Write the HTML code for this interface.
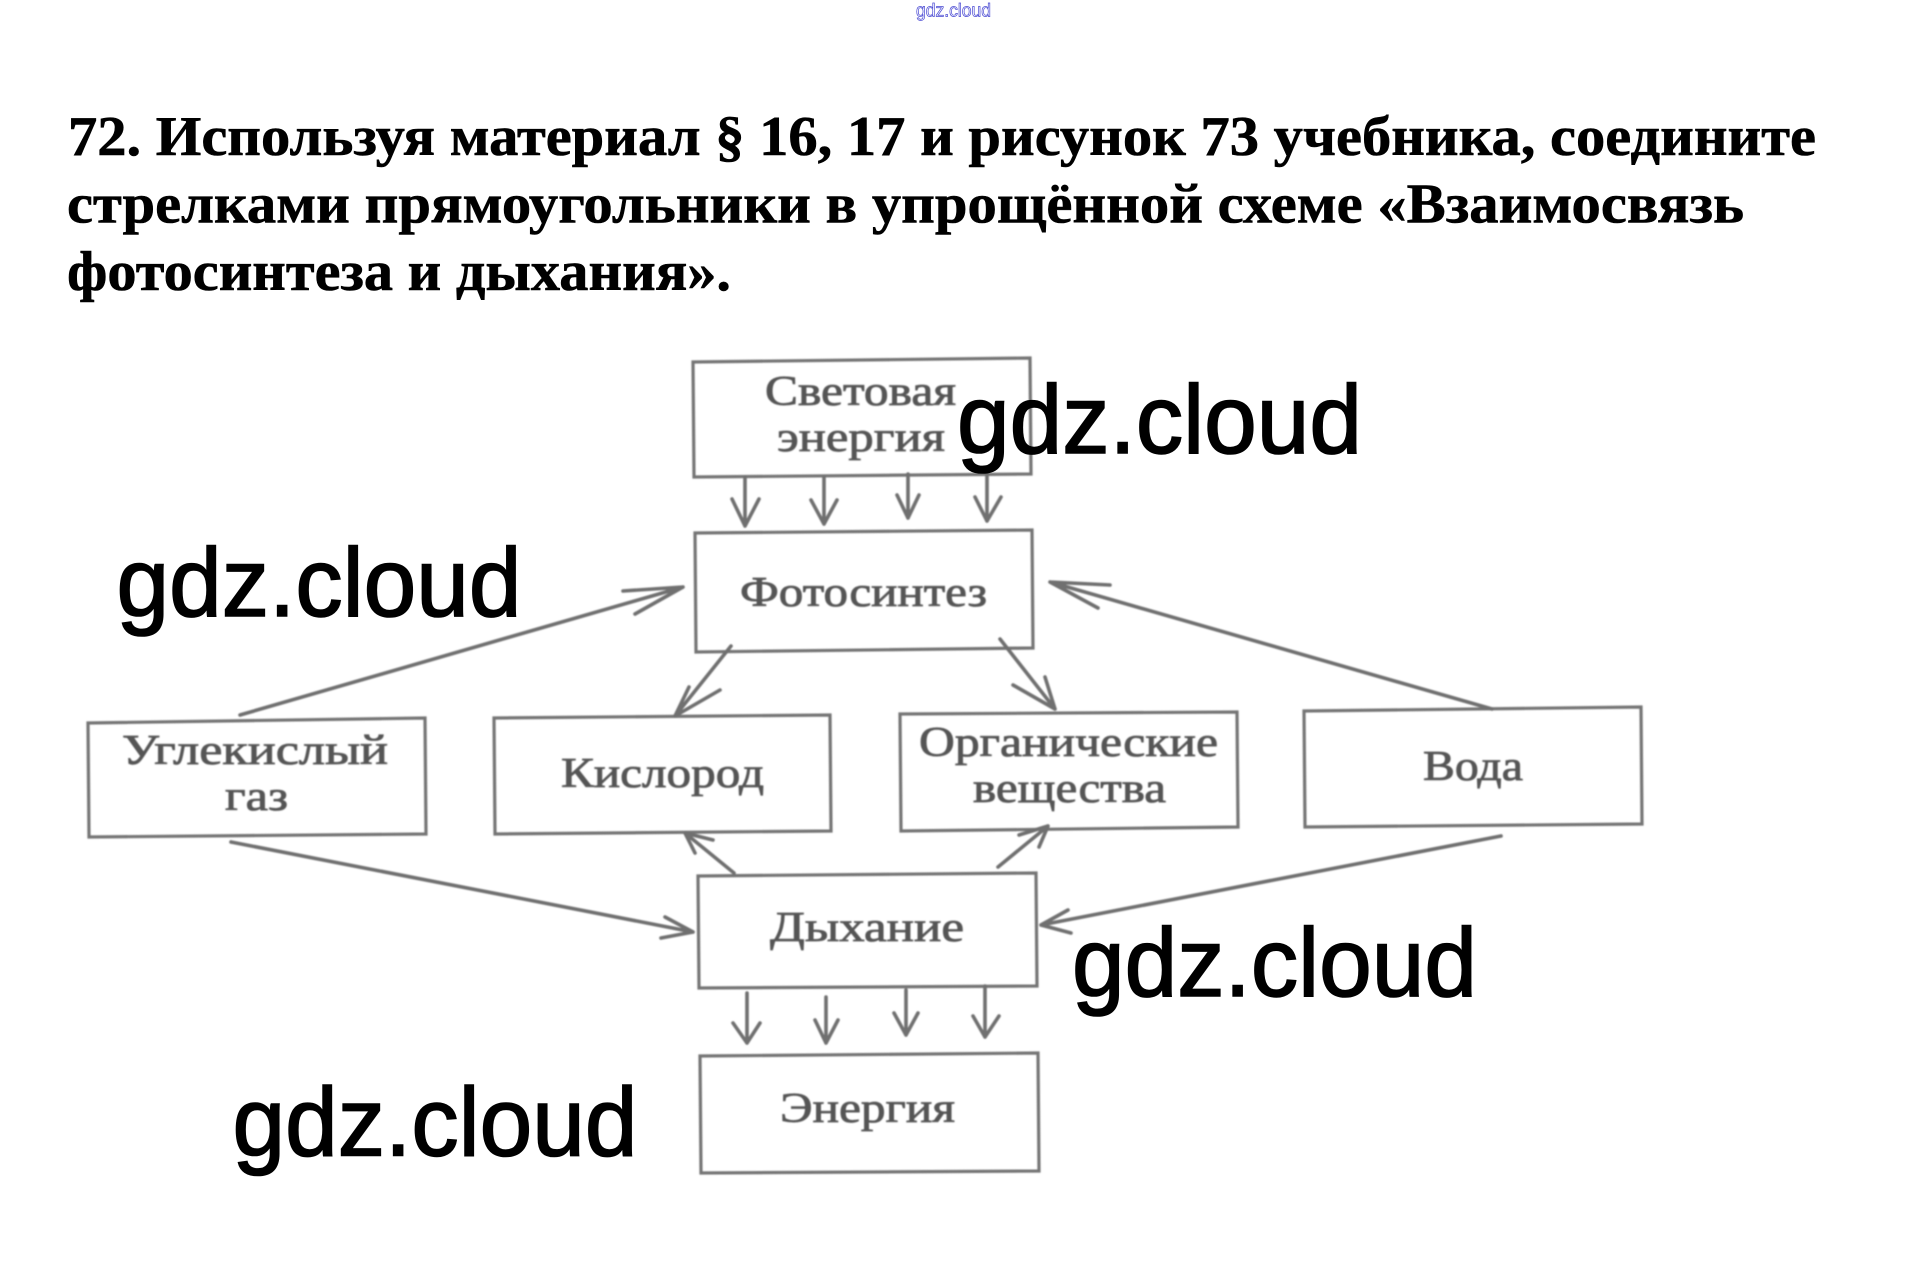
<!DOCTYPE html>
<html lang="ru">
<head>
<meta charset="utf-8">
<title>Взаимосвязь фотосинтеза и дыхания</title>
<style>
html,body{margin:0;padding:0;background:#fff;width:1907px;height:1282px;overflow:hidden}
svg{display:block}
.t{font-family:"Liberation Serif","DejaVu Serif",serif;font-weight:700;font-size:56px;fill:#000;stroke:#000;stroke-width:.6px}
.l{font-family:"Liberation Serif","DejaVu Serif",serif;font-size:42px;fill:#555;stroke:#555;stroke-width:.8px}
.w{font-family:"Liberation Sans","DejaVu Sans",sans-serif;font-size:97px;fill:#000;stroke:#000;stroke-width:1.6px}
.b{fill:none;stroke:#747474;stroke-width:3.2}
.a{fill:none;stroke:#6f6f6f;stroke-width:3.6;stroke-linecap:round;stroke-linejoin:round}
</style>
</head>
<body>
<svg width="1907" height="1282" viewBox="0 0 1907 1282" xmlns="http://www.w3.org/2000/svg">
<defs><filter id="s" x="-5%" y="-5%" width="110%" height="110%"><feGaussianBlur stdDeviation="0.8"/></filter></defs>
<rect width="1907" height="1282" fill="#fff"/>

<text x="916" y="16.5" font-family="Liberation Sans, sans-serif" font-size="18" fill="#fff" stroke="#4646d2" stroke-width=".7" textLength="75" lengthAdjust="spacingAndGlyphs">gdz.cloud</text>

<text class="t" x="68" y="155" textLength="1748" lengthAdjust="spacingAndGlyphs">72. Используя материал § 16, 17 и рисунок 73 учебника, соедините</text>
<text class="t" x="67" y="222.5" textLength="1677" lengthAdjust="spacingAndGlyphs">стрелками прямоугольники в упрощённой схеме «Взаимосвязь</text>
<text class="t" x="67" y="290" textLength="664" lengthAdjust="spacingAndGlyphs">фотосинтеза и дыхания».</text>

<g filter="url(#s)">
<!-- boxes -->
<polygon class="b" points="693,362 1030,358 1031,474 694,477"/>
<polygon class="b" points="695,533 1032,530 1033,648 696,652"/>
<polygon class="b" points="88,723 425,718 426,834 89,837"/>
<polygon class="b" points="494,718 830,715 831,831 495,834"/>
<polygon class="b" points="900,714 1237,712 1238,827 901,831"/>
<polygon class="b" points="1304,711 1641,707 1642,824 1305,827"/>
<polygon class="b" points="698,876 1036,873 1037,986 699,988"/>
<polygon class="b" points="700,1056 1038,1053 1039,1171 701,1173"/>

<!-- top four arrows -->
<path class="a" d="M745 477V526M732 499L745 526L759 499"/>
<path class="a" d="M824 477V524M811 500L824 524L837 500"/>
<path class="a" d="M908 474V518M897 495L908 518L919 495"/>
<path class="a" d="M987 472V521M975 497L987 521L1001 497"/>

<!-- diagonal arrows -->
<path class="a" d="M240 715L683 587M623 591L683 587L635 614"/>
<path class="a" d="M1492 709L1050 582M1110 585L1050 582L1098 608"/>
<path class="a" d="M731 646L675 716M689 687L675 716L720 690"/>
<path class="a" d="M1000 639L1055 709M1013 685L1055 709L1045 677"/>
<path class="a" d="M231 842L693 932M665 917L693 932L661 938"/>
<path class="a" d="M1501 836L1041 925M1068 910L1041 925L1071 933"/>
<path class="a" d="M734 873L685 833M713 840L685 833L695 853"/>
<path class="a" d="M998 867L1048 826M1019 835L1048 826L1039 847"/>

<!-- bottom four arrows -->
<path class="a" d="M747 993V1043M733 1023L747 1043L760 1023"/>
<path class="a" d="M826 997V1043M815 1020L826 1043L838 1020"/>
<path class="a" d="M906 990V1035M894 1013L906 1035L918 1013"/>
<path class="a" d="M985 986V1037M973 1016L985 1037L999 1016"/>

<!-- labels -->
<text class="l" x="765" y="405" textLength="191" lengthAdjust="spacingAndGlyphs">Световая</text>
<text class="l" x="777" y="451" textLength="168" lengthAdjust="spacingAndGlyphs">энергия</text>
<text class="l" x="740" y="606" textLength="247" lengthAdjust="spacingAndGlyphs">Фотосинтез</text>
<text class="l" x="122" y="764" textLength="266" lengthAdjust="spacingAndGlyphs">Углекислый</text>
<text class="l" x="225" y="810" textLength="63" lengthAdjust="spacingAndGlyphs">газ</text>
<text class="l" x="561" y="787" textLength="203" lengthAdjust="spacingAndGlyphs">Кислород</text>
<text class="l" x="919" y="756" textLength="299" lengthAdjust="spacingAndGlyphs">Органические</text>
<text class="l" x="973" y="802" textLength="193" lengthAdjust="spacingAndGlyphs">вещества</text>
<text class="l" x="1423" y="780" textLength="100" lengthAdjust="spacingAndGlyphs">Вода</text>
<text class="l" x="770" y="941" textLength="194" lengthAdjust="spacingAndGlyphs">Дыхание</text>
<text class="l" x="780" y="1122" textLength="175" lengthAdjust="spacingAndGlyphs">Энергия</text>
</g>

<!-- watermarks -->
<text class="w" x="957" y="453" textLength="405" lengthAdjust="spacingAndGlyphs">gdz.cloud</text>
<text class="w" x="116.5" y="616" textLength="405" lengthAdjust="spacingAndGlyphs">gdz.cloud</text>
<text class="w" x="1072" y="996" textLength="405" lengthAdjust="spacingAndGlyphs">gdz.cloud</text>
<text class="w" x="232.5" y="1155.5" textLength="405" lengthAdjust="spacingAndGlyphs">gdz.cloud</text>
</svg>
</body>
</html>
